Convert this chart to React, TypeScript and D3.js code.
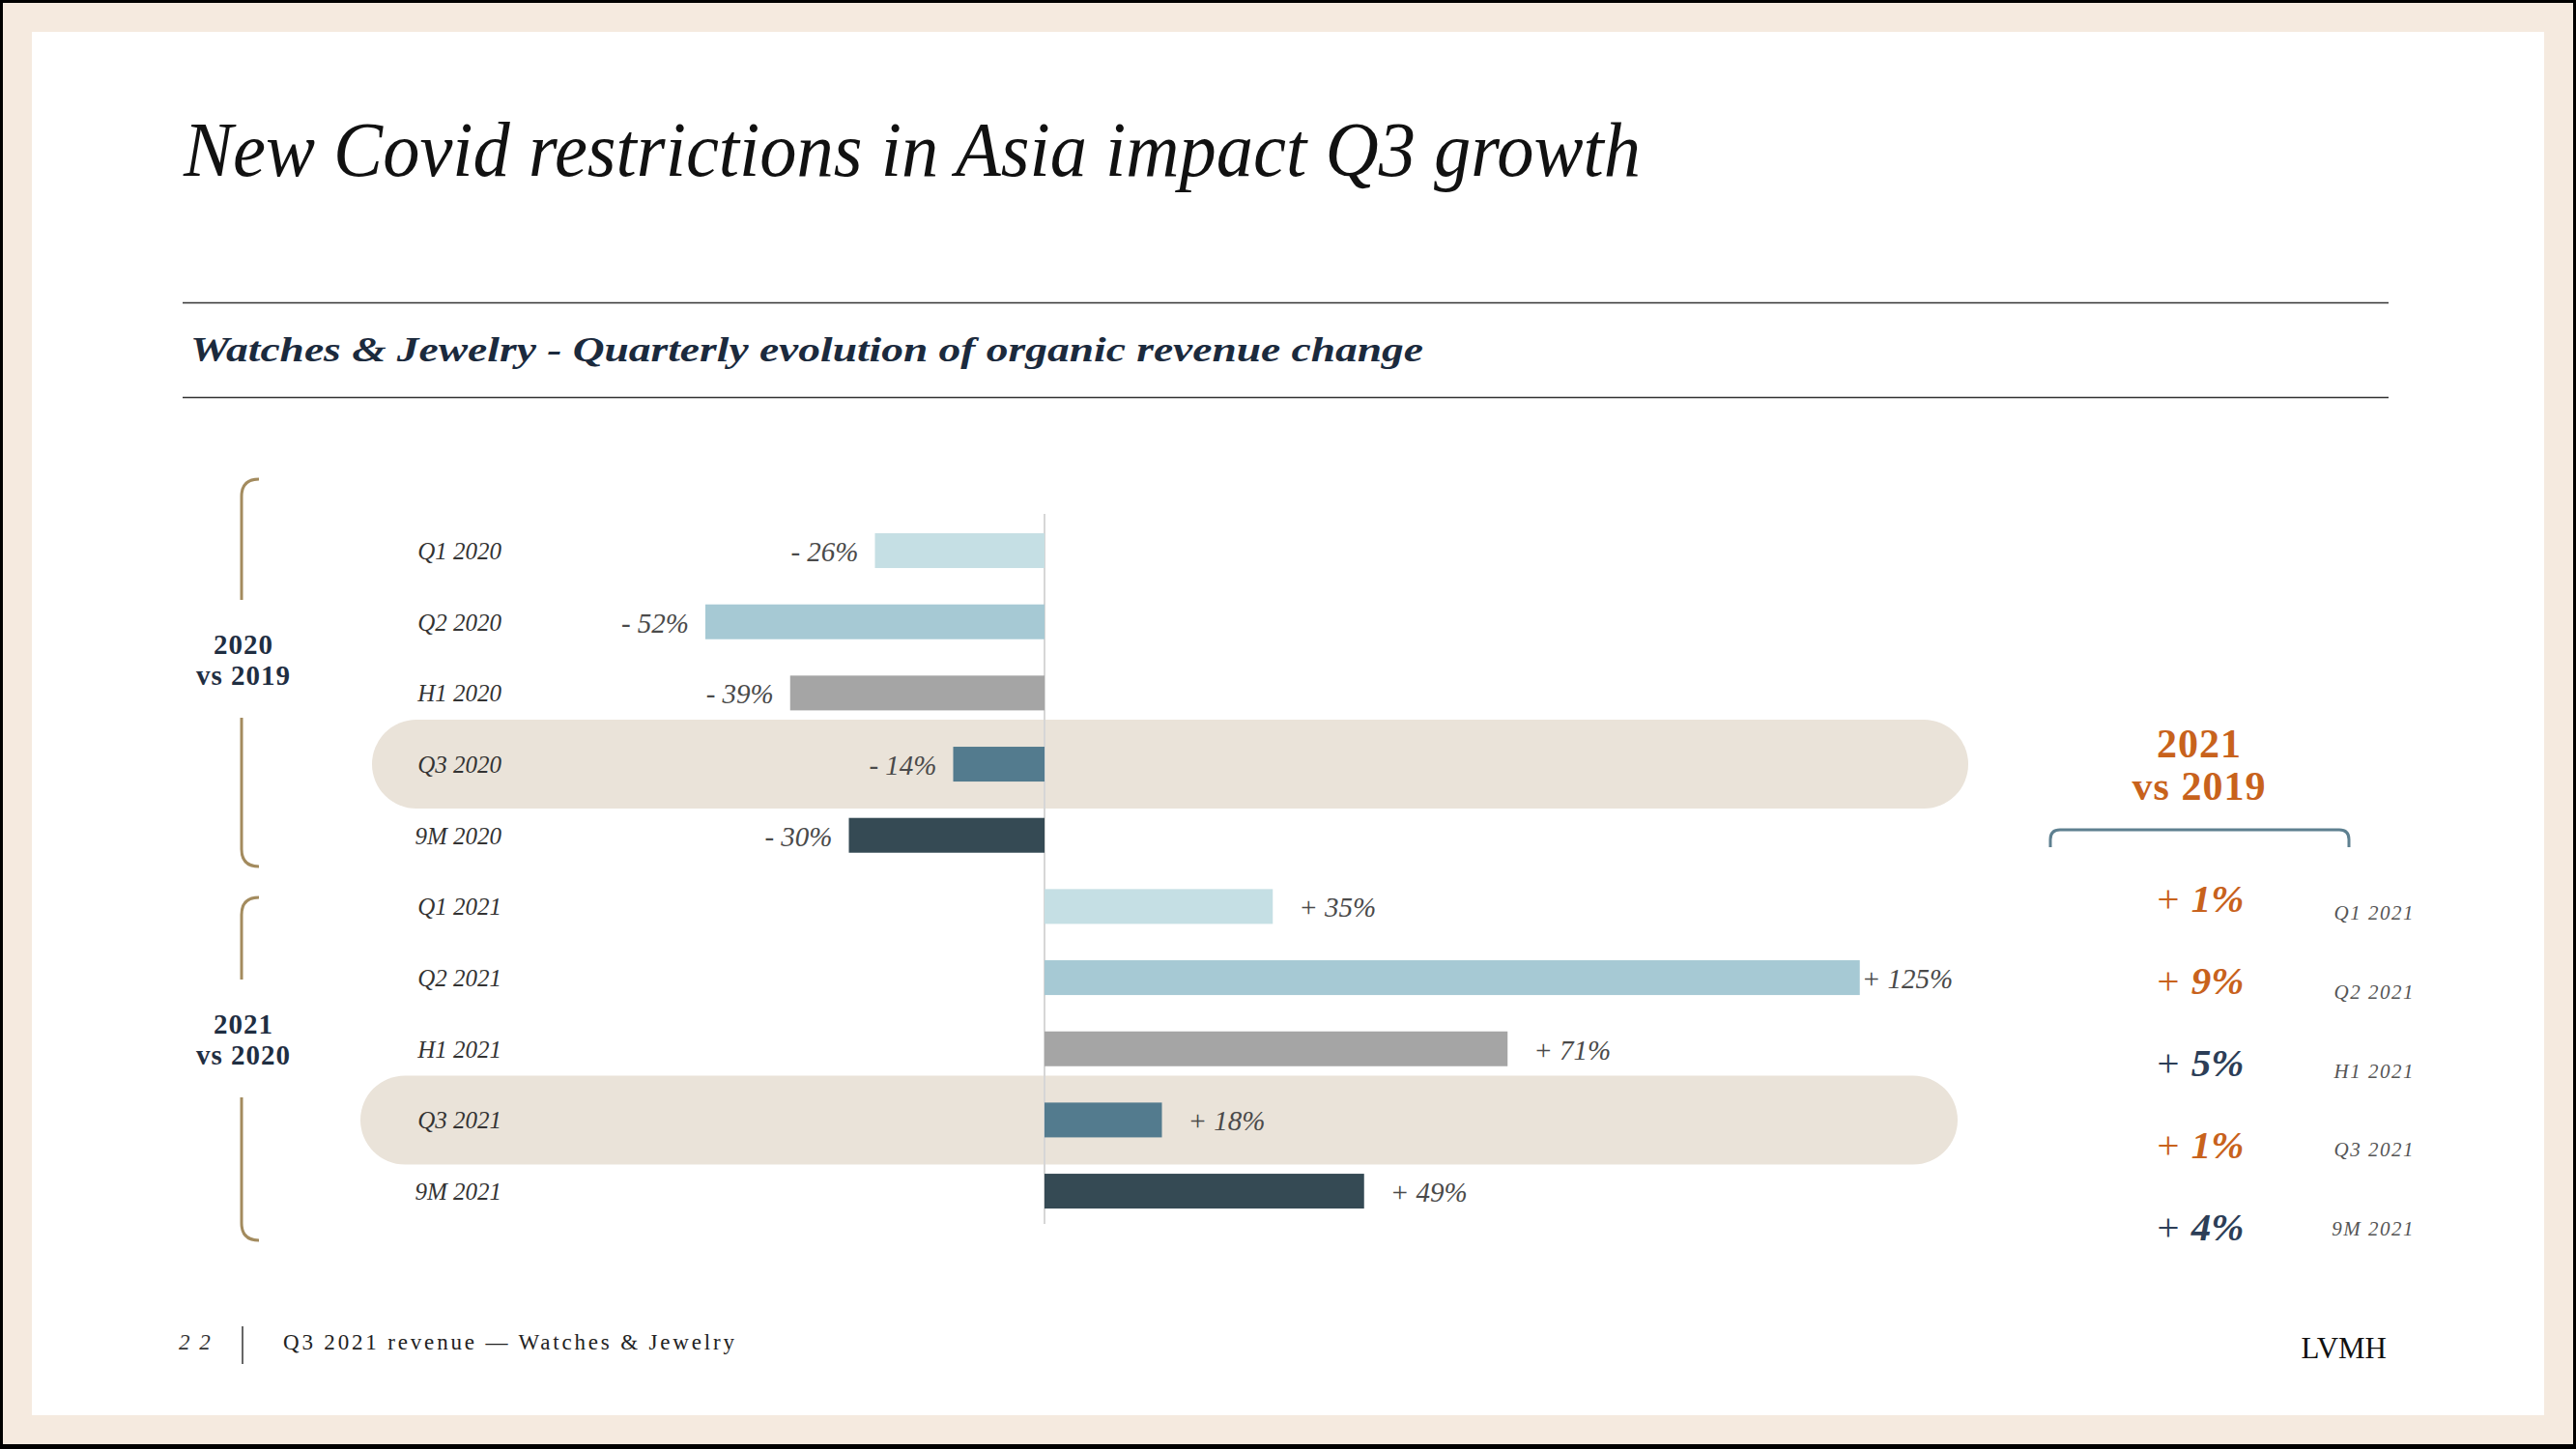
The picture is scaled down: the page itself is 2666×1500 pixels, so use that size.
import React from "react";
import * as d3 from "d3";

const categories = ["Q1 2020", "Q2 2020", "H1 2020", "Q3 2020", "9M 2020", "Q1 2021", "Q2 2021", "H1 2021", "Q3 2021", "9M 2021"];
const values = [-26, -52, -39, -14, -30, 35, 125, 71, 18, 49];
const periodColors: Record<string, string> = {
  Q1: "#C5DFE4",
  Q2: "#A6C9D4",
  H1: "#A5A5A5",
  Q3: "#537B8E",
  "9M": "#354A54",
};
const highlighted = ["Q3 2020", "Q3 2021"];
const groupLabels = [["2020", "vs 2019"], ["2021", "vs 2020"]];

const vs2019Categories = ["Q1 2021", "Q2 2021", "H1 2021", "Q3 2021", "9M 2021"];
const vs2019Values = [1, 9, 5, 1, 4];
const vs2019Header = ["2021", "vs 2019"];

const TITLE = "New Covid restrictions in Asia impact Q3 growth";
const SUBTITLE = "Watches & Jewelry - Quarterly evolution of organic revenue change";
const FOOTER = "Q3 2021 revenue \u2014 Watches & Jewelry";
const PAGE = "2 2";

const W = 2666;
const H = 1500;
const SERIF = "'Liberation Serif', 'Times New Roman', serif";
const ORANGE = "#C8621C";
const NAVY = "#1F2E42";
const GOLD = "#A38B5E";

// layout of the two left brackets (top, bottom, gap centre)
const BRACKETS = [
  { top: 496, bottom: 897, gap: 682 },
  { top: 929, bottom: 1284, gap: 1075 },
];

const fmt = (v: number) => (v < 0 ? `- ${Math.abs(v)}%` : `+ ${v}%`);
const colorOf = (c: string) => periodColors[c.split(" ")[0]];

export default function App() {
  const x = d3.scaleLinear().domain([-52, 125]).range([730, 1924.75]);
  const y = d3
    .scaleBand<string>()
    .domain(categories)
    .range([533.2, 1269.9])
    .paddingInner(0.511)
    .paddingOuter(0.2555);
  const bw = y.bandwidth();
  const cy = (c: string) => (y(c) as number) + bw / 2;

  const yv = d3.scalePoint<string>().domain(vs2019Categories).range([944, 1284]);
  const yl = d3.scalePoint<string>().domain(vs2019Categories).range([952, 1279]);

  const bracketX = 250;
  const hook = 18;
  const gapHalf = 61;

  return (
    <svg width={W} height={H} style={{ position: "absolute", left: 0, top: 0 }} xmlns="http://www.w3.org/2000/svg">
      <rect x={0} y={0} width={W} height={H} fill="#000" />
      <rect x={3} y={3} width={W - 6} height={H - 8} fill="#F5EADF" />
      <rect x={33} y={33} width={2600} height={1432} fill="#FFFFFF" />

      {/* Title */}
      <text x={190} y={182} fontFamily={SERIF} fontStyle="italic" fontSize={80} fill="#111" textLength={1508} lengthAdjust="spacingAndGlyphs">
        {TITLE}
      </text>

      {/* Subtitle with rules */}
      <line x1={189} x2={2472} y1={313.5} y2={313.5} stroke="#333" strokeWidth={1.5} />
      <line x1={189} x2={2472} y1={411.5} y2={411.5} stroke="#333" strokeWidth={1.5} />
      <text x={197} y={374} fontFamily={SERIF} fontStyle="italic" fontWeight="bold" fontSize={36} fill="#1B2A3D" textLength={1276} lengthAdjust="spacingAndGlyphs">
        {SUBTITLE}
      </text>

      {/* Highlight pills */}
      {highlighted.map((c, i) => {
        const c0 = cy(c);
        const left = i === 0 ? 385 : 373;
        const right = i === 0 ? 2037 : 2026;
        return <rect key={c} x={left} y={c0 - 46} width={right - left} height={92} rx={46} ry={46} fill="#EAE3D9" />;
      })}

      {/* Zero line */}
      <line x1={x(0)} x2={x(0)} y1={532} y2={1267} stroke="#D6D6D6" strokeWidth={2} />

      {/* Bars */}
      {categories.map((c, i) => {
        const v = values[i];
        const x0 = Math.min(x(0), x(v));
        const w = Math.abs(x(v) - x(0));
        return <rect key={c} x={x0} y={y(c)} width={w} height={bw} fill={colorOf(c)} />;
      })}

      {/* Category labels */}
      {categories.map((c) => (
        <text key={c} x={519} y={cy(c) + 9} textAnchor="end" fontFamily={SERIF} fontStyle="italic" fontSize={25} fill="#333">
          {c}
        </text>
      ))}

      {/* Value labels */}
      {categories.map((c, i) => {
        const v = values[i];
        const neg = v < 0;
        const gap = neg ? 17 : v > 100 ? 2 : 27;
        return (
          <text
            key={c}
            x={neg ? x(v) - gap : x(v) + gap}
            y={cy(c) + 11}
            textAnchor={neg ? "end" : "start"}
            fontFamily={SERIF}
            fontStyle="italic"
            fontSize={29}
            fill="#4A4A4A"
          >
            {fmt(v)}
          </text>
        );
      })}

      {/* Left brackets */}
      {BRACKETS.map((b, i) => {
        const path = `M ${bracketX + hook} ${b.top} Q ${bracketX} ${b.top} ${bracketX} ${b.top + hook} L ${bracketX} ${b.gap - gapHalf} M ${bracketX} ${b.gap + gapHalf} L ${bracketX} ${b.bottom - hook} Q ${bracketX} ${b.bottom} ${bracketX + hook} ${b.bottom}`;
        return (
          <g key={i}>
            <path d={path} fill="none" stroke={GOLD} strokeWidth={3} />
            <text x={252} y={b.gap - 5} textAnchor="middle" fontFamily={SERIF} fontWeight="bold" fontSize={29} fill={NAVY} letterSpacing={1}>
              {groupLabels[i][0]}
            </text>
            <text x={252} y={b.gap + 27} textAnchor="middle" fontFamily={SERIF} fontWeight="bold" fontSize={29} fill={NAVY} letterSpacing={1}>
              {groupLabels[i][1]}
            </text>
          </g>
        );
      })}

      {/* Right panel: 2021 vs 2019 */}
      <text x={2276} y={784} textAnchor="middle" fontFamily={SERIF} fontWeight="bold" fontSize={42} fill={ORANGE} letterSpacing={1}>
        {vs2019Header[0]}
      </text>
      <text x={2276} y={828} textAnchor="middle" fontFamily={SERIF} fontWeight="bold" fontSize={42} fill={ORANGE} letterSpacing={1}>
        {vs2019Header[1]}
      </text>
      <path
        d={`M 2122 877 L 2122 869 Q 2122 859 2132 859 L 2421 859 Q 2431 859 2431 869 L 2431 877`}
        fill="none"
        stroke="#5E8090"
        strokeWidth={3}
      />
      {vs2019Categories.map((c, i) => {
        const col = c.startsWith("Q") ? ORANGE : "#2C3E57";
        return (
          <g key={c}>
            <text x={2276} y={yv(c)} textAnchor="middle" fontFamily={SERIF} fontStyle="italic" fontSize={41} fill={col}>
              <tspan fontWeight="normal">+ </tspan>
              <tspan fontWeight="bold">{`${vs2019Values[i]}%`}</tspan>
            </text>
            <text x={2499} y={yl(c)} textAnchor="end" fontFamily={SERIF} fontStyle="italic" fontSize={21} fill="#555" letterSpacing={1.5}>
              {c}
            </text>
          </g>
        );
      })}

      {/* Footer */}
      <text x={185} y={1397} fontFamily={SERIF} fontStyle="italic" fontSize={23} fill="#333" letterSpacing={2}>
        {PAGE}
      </text>
      <line x1={251} x2={251} y1={1373} y2={1412} stroke="#333" strokeWidth={1.5} />
      <text x={293} y={1397} fontFamily={SERIF} fontSize={23} fill="#222" textLength={467} lengthAdjust="spacing">
        {FOOTER}
      </text>
      <text x={2470} y={1406} textAnchor="end" fontFamily={SERIF} fontSize={31} fill="#111">
        LVMH
      </text>
    </svg>
  );
}
